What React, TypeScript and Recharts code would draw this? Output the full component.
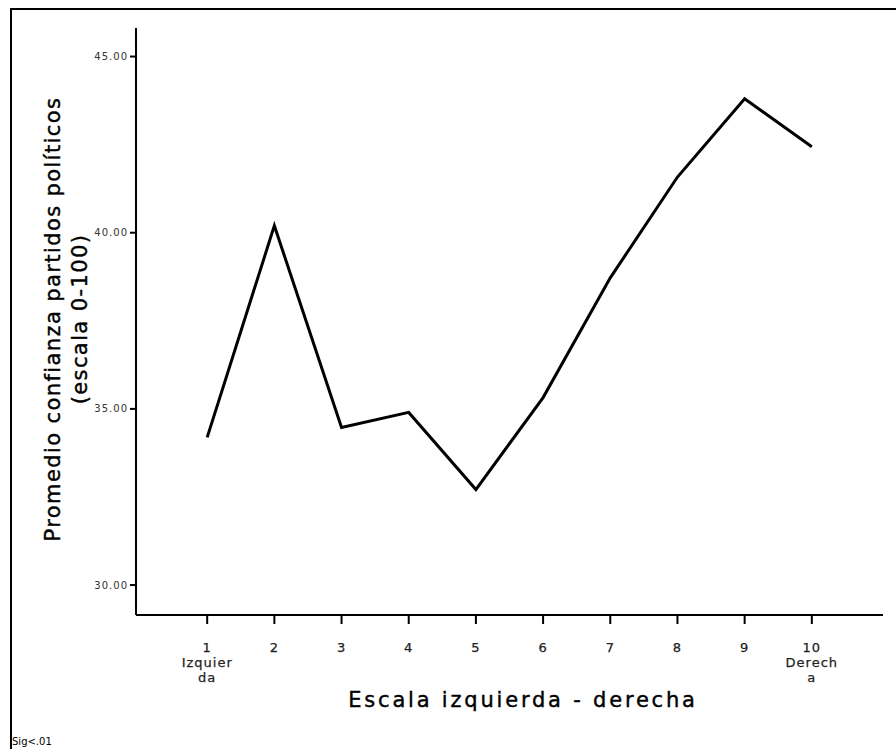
import React from "react";
import { LineChart, Line, XAxis, YAxis } from "recharts";

const categories = [1, 2, 3, 4, 5, 6, 7, 8, 9, 10];
const confidence = [34.19, 40.2, 34.47, 34.9, 32.71, 35.32, 38.72, 41.58, 43.8, 42.44];
const tickSubLabels: Record<number, string[]> = { 1: ["Izquier", "da"], 10: ["Derech", "a"] };
const yTicks = [30, 35, 40, 45];

const data = categories.map((c, i) => ({ x: c, v: confidence[i] }));

const FONT = "'DejaVu Sans', Verdana, sans-serif";

const XTick = (props: any) => {
  const { x, y, payload } = props;
  const extra = tickSubLabels[payload.value] || [];
  return (
    <text x={x} y={y} textAnchor="middle" fontFamily={FONT} fontSize={13} fill="#222" stroke="#222" strokeWidth={0.25} letterSpacing={1}>
      <tspan x={x} dy={26}>{String(payload.value)}</tspan>
      {extra.map((t, i) => (
        <tspan key={i} x={x} dy={15}>{t}</tspan>
      ))}
    </text>
  );
};

export default function App() {
  return (
    <div style={{ position: "absolute", left: 0, top: 0, width: 896, height: 749, background: "#fff", overflow: "hidden" }}>
      <div style={{ position: "absolute", left: 10, top: 8, width: 1000, height: 1000, borderLeft: "2px solid #000", borderTop: "2px solid #000" }} />
      <LineChart
        width={896}
        height={749}
        data={data}
        margin={{ top: 28, right: 13, bottom: 74, left: 76 }}
        style={{ position: "absolute", left: 0, top: 0 }}
      >
        <XAxis
          dataKey="x"
          type="number"
          domain={[0, 11]}
          ticks={categories}
          padding={{ left: 4, right: 4 }}
          height={60}
          axisLine={{ stroke: "#000", strokeWidth: 2 }}
          tickLine={{ stroke: "#000", strokeWidth: 2 }}
          tickSize={9}
          tickMargin={2}
          tick={<XTick />}
          interval={0}
          allowDataOverflow
        />
        <YAxis
          type="number"
          domain={[29.15, 45.81]}
          ticks={yTicks}
          width={60}
          allowDataOverflow
          axisLine={{ stroke: "#000", strokeWidth: 2 }}
          tickLine={{ stroke: "#000", strokeWidth: 2 }}
          tickSize={6}
          tickMargin={2}
          tickFormatter={(v: number) => v.toFixed(2)}
          tick={{ fontFamily: FONT, fontSize: 10, fill: "#333", letterSpacing: 1 }}
        />
        <Line
          dataKey="v"
          stroke="#000"
          strokeWidth={3}
          dot={false}
          activeDot={false}
          isAnimationActive={false}
          type="linear"
          strokeLinejoin="miter"
        />
      </LineChart>
      <svg width={896} height={749} style={{ position: "absolute", left: 0, top: 0, pointerEvents: "none" }}>
        <text transform="translate(53,319) rotate(-90)" fontFamily={FONT} fontSize={21} fill="#000" stroke="#000" strokeWidth={0.4} textAnchor="middle" dominantBaseline="central" letterSpacing={1.4}>
          Promedio confianza partidos políticos
        </text>
        <text transform="translate(80,319) rotate(-90)" fontFamily={FONT} fontSize={21} fill="#000" stroke="#000" strokeWidth={0.4} textAnchor="middle" dominantBaseline="central" letterSpacing={1.4}>
          (escala 0-100)
        </text>
        <text x={523} y={700} fontFamily={FONT} fontSize={21} fill="#000" stroke="#000" strokeWidth={0.4} textAnchor="middle" dominantBaseline="central" letterSpacing={2.8}>
          Escala izquierda - derecha
        </text>
        <text x={12} y={741} fontFamily={FONT} fontSize={10} fill="#000" dominantBaseline="central">
          Sig&lt;.01
        </text>
      </svg>
    </div>
  );
}
